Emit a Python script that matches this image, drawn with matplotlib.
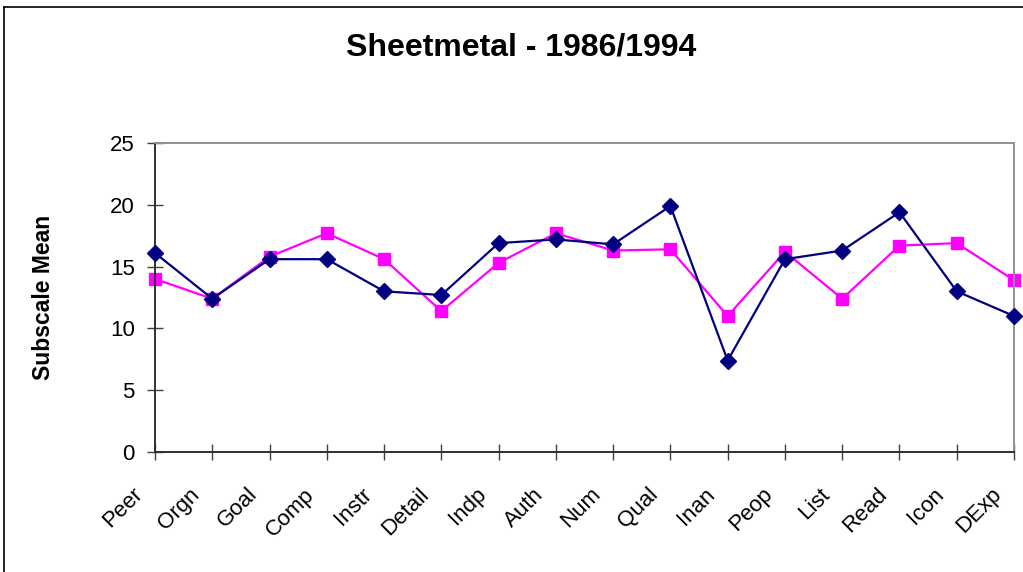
import matplotlib
matplotlib.use("Agg")
import matplotlib.pyplot as plt
import matplotlib.transforms as mtransforms
from matplotlib.lines import Line2D

plt.rcParams["font.family"] = ["Liberation Sans", "DejaVu Sans"]

# ── Данные ────────────────────────────────────────────────────────────────────
categories = ["Peer", "Orgn", "Goal", "Comp", "Instr", "Detail", "Indp", "Auth",
              "Num", "Qual", "Inan", "Peop", "List", "Read", "Icon", "DExp"]
mean_1986 = [16.1, 12.4, 15.6, 15.6, 13.0, 12.7, 16.9, 17.2,
             16.8, 19.9, 7.4, 15.6, 16.3, 19.4, 13.0, 11.0]
mean_1994 = [14.0, 12.4, 15.8, 17.7, 15.6, 11.4, 15.3, 17.7,
             16.3, 16.4, 11.0, 16.2, 12.4, 16.7, 16.9, 13.9]
y_ticks = [0, 5, 10, 15, 20, 25]
# ─────────────────────────────────────────────────────────────────────────────

fig = plt.figure(figsize=(10.23, 5.72), dpi=100)
ax = fig.add_axes([155 / 1023, 1 - 452 / 572, 859 / 1023, 309 / 572])

x = list(range(len(categories)))
ax.plot(x, mean_1986, color="#000080", lw=1.6, marker="D", ms=8,
        markeredgecolor="#000080", clip_on=False, zorder=3)
ax.plot(x, mean_1994, color="#FF00FF", lw=1.6, marker="s", ms=9,
        markeredgecolor="#FF00FF", clip_on=False, zorder=2)

ax.set_xlim(0, len(categories) - 1)
ax.set_ylim(0, 25)
ax.set_yticks(y_ticks)
ax.set_xticks(x)
ax.set_xticklabels(categories, rotation=45, ha="right", va="top",
                   rotation_mode="anchor")

ax.tick_params(axis="both", direction="inout", length=11, width=1,
               color="#404040", labelsize=16)
ax.tick_params(axis="y", pad=9)
ax.tick_params(axis="x", pad=16)

# сдвигает подписи категорий влево, как в оригинале
shift = mtransforms.ScaledTranslation(-0.23, -0.02, fig.dpi_scale_trans)
for lbl in ax.get_xticklabels():
    lbl.set_transform(lbl.get_transform() + shift)

for side in ("left", "bottom"):
    ax.spines[side].set_color("#303030")
    ax.spines[side].set_linewidth(1.4)
for side in ("top", "right"):
    ax.spines[side].set_color("#909090")
    ax.spines[side].set_linewidth(1.4)

ax.set_ylabel("Subscale Mean", fontsize=16.5, fontweight="bold")
ax.yaxis.set_label_coords((55 - 155) / 859, 0.5)

fig.text(521 / 1023, 1 - 48 / 572, "Sheetmetal - 1986/1994",
         fontsize=23, fontweight="bold", ha="center", va="center")

# внешняя рамка (левая и верхняя линии)
fig.add_artist(Line2D([4 / 1023, 4 / 1023], [0, 1 - 7 / 572],
                      transform=fig.transFigure, color="black", lw=1.2))
fig.add_artist(Line2D([4 / 1023, 1], [1 - 7 / 572, 1 - 7 / 572],
                      transform=fig.transFigure, color="black", lw=1.2))

fig.savefig("out.png", dpi=100)
